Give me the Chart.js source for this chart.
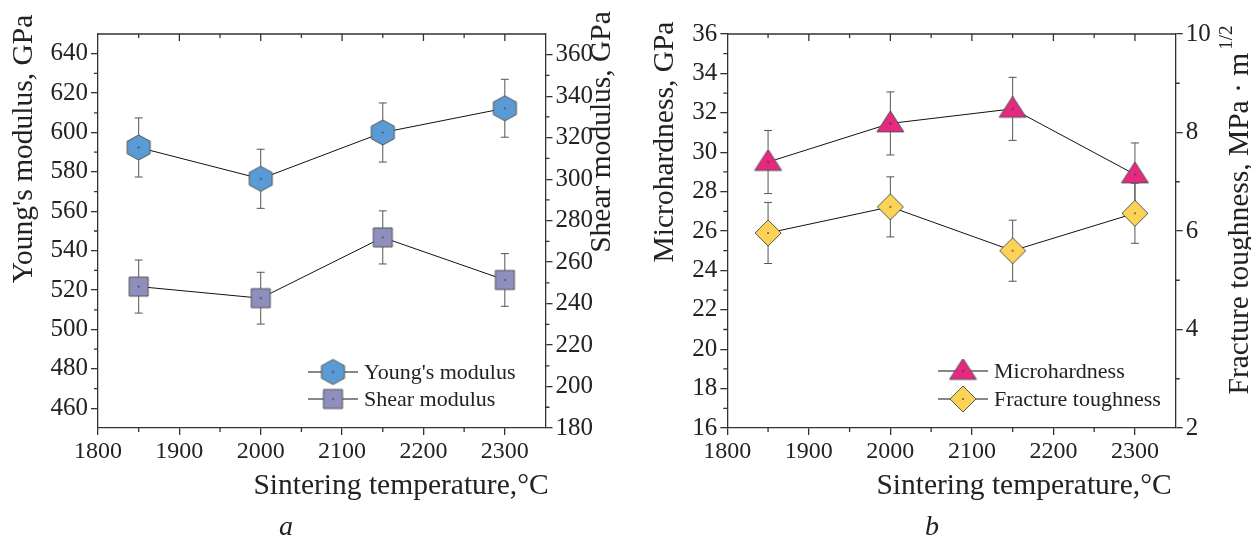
<!DOCTYPE html>
<html>
<head>
<meta charset="utf-8">
<script src="https://cdn.jsdelivr.net/npm/chart.js@4.4.1/dist/chart.umd.min.js"></script>
<style>
  body { margin: 0; background: #fff; width: 1251px; height: 542px; overflow: hidden; position: relative; }
  canvas { position: absolute; top: 0; }
  #chartA { left: 0; }
  #chartB { left: 620px; }
</style>
</head>
<body>
<canvas id="chartA" width="620" height="542"></canvas>
<canvas id="chartB" width="631" height="542"></canvas>
<script>
// data
const temps = [1850, 2000, 2150, 2300];
const youngModulus = [592.4, 576.5, 600, 612.3];
const youngErr = [15, 15, 15, 14.7];
const shearModulus = [248.2, 242.6, 271.9, 251.4];
const shearErr = [12.8, 12.5, 12.8, 12.7];
const microhardness = [29.5, 31.46, 32.2, 28.87];
const hardnessErr = [1.6, 1.6, 1.6, 1.6];
const toughness = [5.96, 6.49, 5.6, 6.36];
const toughnessErr = [0.62, 0.61, 0.62, 0.61];

const xTicks = [1800, 1900, 2000, 2100, 2200, 2300];
const youngTicks = [460, 480, 500, 520, 540, 560, 580, 600, 620, 640];
const shearTicks = [180, 200, 220, 240, 260, 280, 300, 320, 340, 360];
const hardnessTicks = [16, 18, 20, 22, 24, 26, 28, 30, 32, 34, 36];
const toughnessTicks = [2, 4, 6, 8, 10];

const SERIF = '"Liberation Serif", "Times New Roman", serif';
const INK = '#222';

function marker(shape, fill, w, h) {
  const c = document.createElement('canvas');
  c.width = Math.ceil(w) + 4;
  c.height = Math.ceil(h) + 4;
  const ctx = c.getContext('2d');
  const cx = c.width / 2, cy = c.height / 2;
  ctx.beginPath();
  if (shape === 'hex') {
    ctx.moveTo(cx, cy - h / 2);
    ctx.lineTo(cx + w / 2, cy - h / 4);
    ctx.lineTo(cx + w / 2, cy + h / 4);
    ctx.lineTo(cx, cy + h / 2);
    ctx.lineTo(cx - w / 2, cy + h / 4);
    ctx.lineTo(cx - w / 2, cy - h / 4);
  } else if (shape === 'square') {
    ctx.rect(cx - w / 2, cy - h / 2, w, h);
  } else if (shape === 'triangle') {
    ctx.moveTo(cx, cy - h * 0.6);
    ctx.lineTo(cx + w / 2, cy + h * 0.4);
    ctx.lineTo(cx - w / 2, cy + h * 0.4);
  } else if (shape === 'diamond') {
    ctx.moveTo(cx, cy - h / 2);
    ctx.lineTo(cx + w / 2, cy);
    ctx.lineTo(cx, cy + h / 2);
    ctx.lineTo(cx - w / 2, cy);
  }
  ctx.closePath();
  ctx.fillStyle = fill;
  ctx.fill();
  ctx.strokeStyle = '#555';
  ctx.lineWidth = 1;
  ctx.stroke();
  ctx.fillStyle = '#333';
  ctx.fillRect(cx - 0.75, cy - 0.75, 1.5, 1.5);
  return c;
}

const hexMark = marker('hex', '#5b9bd5', 23, 25);
const squareMark = marker('square', '#8f8fbd', 19, 19);
const triMark = marker('triangle', '#e5297f', 27, 21);
const diamondMark = marker('diamond', '#fdd357', 26, 26);

const pts = (ys) => temps.map((t, i) => ({ x: t, y: ys[i] }));

const errorBars = {
  id: 'errorBars',
  beforeDatasetsDraw(chart) {
    const ctx = chart.ctx;
    chart.data.datasets.forEach(ds => {
      const xs = chart.scales.x, ys = chart.scales[ds.yAxisID];
      ctx.save();
      ctx.strokeStyle = '#555';
      ctx.lineWidth = 1;
      ds.data.forEach((p, j) => {
        const x = xs.getPixelForValue(p.x);
        const yt = ys.getPixelForValue(p.y + ds.err[j]);
        const yb = ys.getPixelForValue(p.y - ds.err[j]);
        ctx.beginPath();
        ctx.moveTo(x, yt); ctx.lineTo(x, yb);
        ctx.moveTo(x - 4, yt); ctx.lineTo(x + 4, yt);
        ctx.moveTo(x - 4, yb); ctx.lineTo(x + 4, yb);
        ctx.stroke();
      });
      ctx.restore();
    });
  }
};

// top border, mirrored top ticks and minor ticks
const frame = {
  id: 'frame',
  afterDraw(chart) {
    const ctx = chart.ctx, a = chart.chartArea;
    const x = chart.scales.x, y = chart.scales.y, y2 = chart.scales.y2;
    ctx.save();
    ctx.strokeStyle = '#333';
    ctx.lineWidth = 1.3;
    ctx.beginPath();
    ctx.moveTo(a.left, a.top); ctx.lineTo(a.right, a.top);
    const xStep = xTicks[1] - xTicks[0];
    for (let v = x.min; v <= x.max; v += xStep / 2) {
      const px = x.getPixelForValue(v);
      if (px <= a.left + 1 || px >= a.right - 1) continue;
      const major = xTicks.includes(v);
      const len = major ? 7 : 4;
      ctx.moveTo(px, a.top); ctx.lineTo(px, a.top + len);
      if (!major) { ctx.moveTo(px, a.bottom); ctx.lineTo(px, a.bottom + len); }
    }
    [[y, -1], [y2, 1]].forEach(([s, dir]) => {
      const t = s.ticks.map(k => k.value);
      const step = t[1] - t[0];
      const edge = dir < 0 ? a.left : a.right;
      for (let v = t[0] - step / 2; v <= s.max; v += step) {
        const py = s.getPixelForValue(v);
        if (py <= a.top + 1 || py >= a.bottom - 1) continue;
        ctx.moveTo(edge, py); ctx.lineTo(edge + dir * 4, py);
      }
    });
    ctx.stroke();
    ctx.restore();
  }
};

// axis titles, panel letters, legend
const deco = {
  id: 'deco',
  afterDraw(chart, args, opts) {
    const ctx = chart.ctx;
    const off = opts.offset || 0;
    ctx.save();
    ctx.fillStyle = INK;
    (opts.texts || []).forEach(t => {
      ctx.save();
      ctx.font = t.font;
      ctx.translate(t.x - off, t.y);
      if (t.rot) ctx.rotate(t.rot);
      ctx.textBaseline = 'middle';
      let w = ctx.measureText(t.text).width;
      let sw = 0;
      if (t.sup) {
        ctx.font = t.supFont;
        sw = ctx.measureText(t.sup).width + 3;
        ctx.font = t.font;
      }
      const start = -(w + sw) / 2;
      ctx.textAlign = 'left';
      ctx.fillText(t.text, start, 0);
      if (t.sup) {
        ctx.font = t.supFont;
        ctx.fillText(t.sup, start + w + 3, -13);
      }
      ctx.restore();
    });
    (opts.legend || []).forEach(l => {
      const lx = l.x - off;
      ctx.strokeStyle = '#111';
      ctx.lineWidth = 1;
      ctx.beginPath();
      ctx.moveTo(lx, l.y); ctx.lineTo(lx + 50, l.y);
      ctx.stroke();
      ctx.drawImage(l.mark, lx + 25 - l.mark.width / 2, l.y - l.mark.height / 2);
      ctx.font = '22px ' + SERIF;
      ctx.textAlign = 'left';
      ctx.textBaseline = 'middle';
      ctx.fillText(l.text, lx + 56, l.y + 1);
    });
    ctx.restore();
  }
};

function tickSet(values) {
  return s => { s.ticks = values.map(v => ({ value: v })); };
}

function axisBase(extra, size) {
  return Object.assign({
    type: 'linear',
    grid: { drawOnChartArea: false, drawTicks: true, tickLength: 7, color: '#333', lineWidth: 1.3 },
    border: { display: true, color: '#333', width: 1.3 },
    ticks: { color: INK, font: { family: SERIF, size: size || 25 }, padding: 3, maxRotation: 0, callback: v => String(v) }
  }, extra);
}

function makeChart(id, sets, scales, decoOpts) {
  return new Chart(document.getElementById(id), {
    type: 'line',
    data: { datasets: sets },
    options: {
      responsive: false,
      animation: false,
      layout: { padding: { top: 34, left: 0, right: 0, bottom: 0 } },
      plugins: { legend: { display: false }, tooltip: { enabled: false }, deco: decoOpts },
      scales
    },
    plugins: [errorBars, frame, deco]
  });
}

function series(ys, err, mark, axis) {
  return {
    data: pts(ys), err, yAxisID: axis,
    borderColor: '#111', borderWidth: 1, fill: false, tension: 0,
    pointStyle: mark, pointRadius: 12, pointHoverRadius: 12
  };
}

const titleFont = '29.5px ' + SERIF;

function xAxis() {
  const ax = axisBase({ min: 1800, max: 2350, afterBuildTicks: tickSet(xTicks), afterFit: s => { s.height = 114; } }, 24);
  ax.ticks.padding = 2;
  return ax;
}

makeChart('chartA',
  [series(youngModulus, youngErr, hexMark, 'y'), series(shearModulus, shearErr, squareMark, 'y2')],
  {
    x: xAxis(),
    y: axisBase({ position: 'left', min: 450, max: 650, afterBuildTicks: tickSet(youngTicks), afterFit: s => { s.width = 98; } }),
    y2: axisBase({ position: 'right', min: 180, max: 370, afterBuildTicks: tickSet(shearTicks), afterFit: s => { s.width = 74.5; } })
  },
  {
    offset: 0,
    texts: [
      { text: "Young's modulus, GPa", x: 24, y: 149, rot: -Math.PI / 2, font: titleFont },
      { text: 'Shear modulus, GPa', x: 602, y: 132, rot: -Math.PI / 2, font: titleFont },
      { text: 'Sintering temperature,\u00B0C', x: 401, y: 486, font: titleFont },
      { text: 'a', x: 286, y: 528, font: 'italic 28px ' + SERIF }
    ],
    legend: [
      { x: 308, y: 372, mark: hexMark, text: "Young's modulus" },
      { x: 308, y: 399, mark: squareMark, text: 'Shear modulus' }
    ]
  });

makeChart('chartB',
  [series(microhardness, hardnessErr, triMark, 'y'), series(toughness, toughnessErr, diamondMark, 'y2')],
  {
    x: xAxis(),
    y: axisBase({ position: 'left', min: 16, max: 36, afterBuildTicks: tickSet(hardnessTicks), afterFit: s => { s.width = 107.3; } }),
    y2: axisBase({ position: 'right', min: 2, max: 10, afterBuildTicks: tickSet(toughnessTicks), afterFit: s => { s.width = 75.3; } })
  },
  {
    offset: 620,
    texts: [
      { text: 'Microhardness, GPa', x: 665, y: 142, rot: -Math.PI / 2, font: titleFont },
      { text: 'Fracture toughness, MPa \u00B7 m', sup: '1/2', supFont: '19px ' + SERIF, x: 1240, y: 210, rot: -Math.PI / 2, font: titleFont },
      { text: 'Sintering temperature,\u00B0C', x: 1024, y: 486, font: titleFont },
      { text: 'b', x: 932, y: 528, font: 'italic 28px ' + SERIF }
    ],
    legend: [
      { x: 938, y: 371, mark: triMark, text: 'Microhardness' },
      { x: 938, y: 399, mark: diamondMark, text: 'Fracture toughness' }
    ]
  });
</script>
</body>
</html>
